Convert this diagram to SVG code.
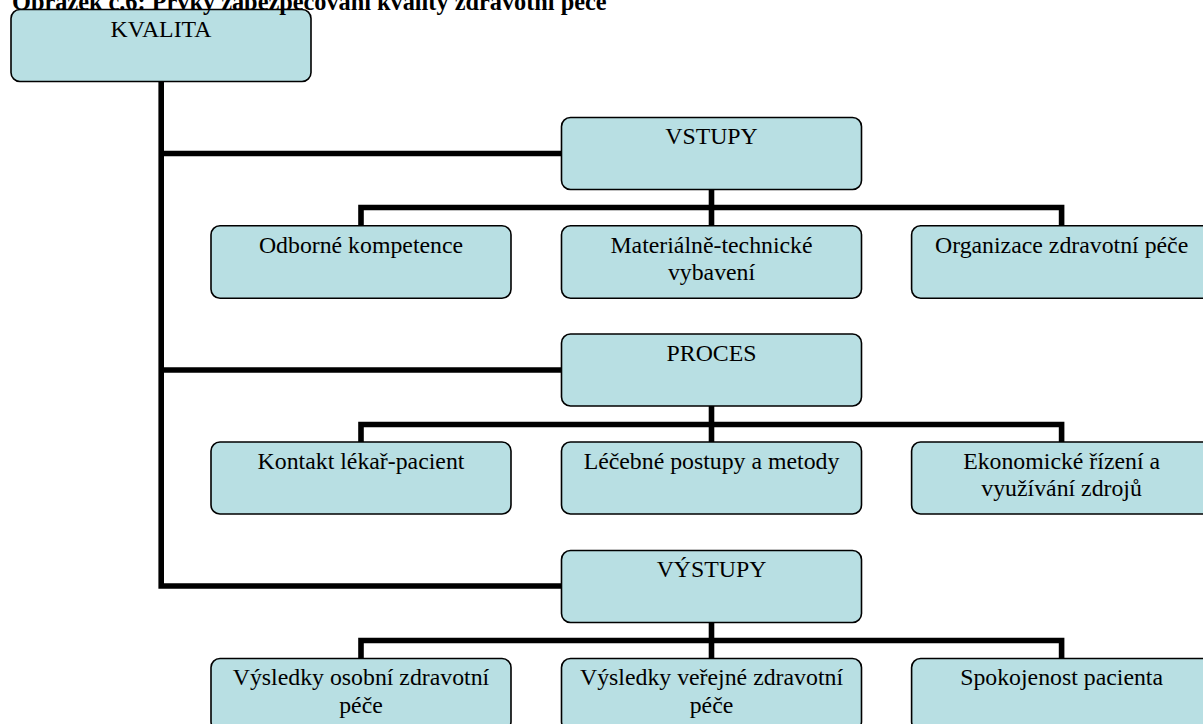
<svg xmlns="http://www.w3.org/2000/svg" width="1203" height="724" viewBox="0 0 1203 724">
<style>
.box{fill:#B8DFE3;stroke:#000;stroke-width:1.6}
.lbl{font-family:"Liberation Serif","Times New Roman",serif;font-size:23.8px;fill:#000;text-anchor:middle}
.ttl{font-family:"Liberation Serif","Times New Roman",serif;font-size:24.3px;font-weight:bold;fill:#000}
.con{fill:none;stroke:#000;stroke-width:5.6;stroke-linejoin:miter;stroke-linecap:butt}
</style>
<rect width="1203" height="724" fill="#fff"/>
<g id="connectors">
<path class="con" d="M161.2 81.5 V586 H561.5"/>
<path class="con" d="M161.2 153.5 H561.5"/>
<path class="con" d="M161.2 370 H561.5"/>
<path class="con" d="M711.5 189.5 V225.7"/>
<path class="con" d="M361 225.7 V207.5 H1061.6 V225.7"/>
<path class="con" d="M711.5 406 V442"/>
<path class="con" d="M361 442 V424.5 H1061.6 V442"/>
<path class="con" d="M711.5 622.5 V658.5"/>
<path class="con" d="M361 658.5 V640.5 H1061.6 V658.5"/>
</g>
<g id="kvalita"><rect class="box" x="11" y="9.5" width="300" height="72" rx="9"/><text class="lbl" x="161" y="37">KVALITA</text></g>
<g id="vstupy"><rect class="box" x="561.5" y="117.5" width="300" height="72" rx="9"/><text class="lbl" x="711.5" y="144">VSTUPY</text></g>
<g id="odborne"><rect class="box" x="211" y="225.7" width="300" height="72.5" rx="9"/><text class="lbl" x="361" y="252.5">Odborné kompetence</text></g>
<g id="materialne"><rect class="box" x="561.5" y="225.7" width="300" height="72.5" rx="9"/><text class="lbl" x="711.5" y="252.5">Materiálně-technické</text><text class="lbl" x="711.5" y="280">vybavení</text></g>
<g id="organizace"><rect class="box" x="911.6" y="225.7" width="300" height="72.5" rx="9"/><text class="lbl" x="1061.6" y="252.5">Organizace zdravotní péče</text></g>
<g id="proces"><rect class="box" x="561.5" y="334" width="300" height="72" rx="9"/><text class="lbl" x="711.5" y="360.5">PROCES</text></g>
<g id="kontakt"><rect class="box" x="211" y="442" width="300" height="72" rx="9"/><text class="lbl" x="361" y="468.5">Kontakt lékař-pacient</text></g>
<g id="lecebne"><rect class="box" x="561.5" y="442" width="300" height="72" rx="9"/><text class="lbl" x="711.5" y="468.5">Léčebné postupy a metody</text></g>
<g id="ekonomicke"><rect class="box" x="911.6" y="442" width="300" height="72" rx="9"/><text class="lbl" x="1061.6" y="468.5">Ekonomické řízení a</text><text class="lbl" x="1061.6" y="496">využívání zdrojů</text></g>
<g id="vystupy"><rect class="box" x="561.5" y="550.5" width="300" height="72" rx="9"/><text class="lbl" x="711.5" y="577">VÝSTUPY</text></g>
<g id="osobni"><rect class="box" x="211" y="658.5" width="300" height="72" rx="9"/><text class="lbl" x="361" y="685">Výsledky osobní zdravotní</text><text class="lbl" x="361" y="712.5">péče</text></g>
<g id="verejne"><rect class="box" x="561.5" y="658.5" width="300" height="72" rx="9"/><text class="lbl" x="711.5" y="685">Výsledky veřejné zdravotní</text><text class="lbl" x="711.5" y="712.5">péče</text></g>
<g id="spokojenost"><rect class="box" x="911.6" y="658.5" width="300" height="72" rx="9"/><text class="lbl" x="1061.6" y="685">Spokojenost pacienta</text></g>
<text class="ttl" x="12" y="10">Obrázek č.6: Prvky zabezpečování kvality zdravotní péče</text>
</svg>
